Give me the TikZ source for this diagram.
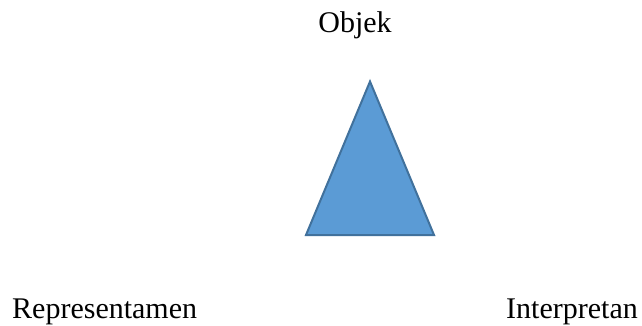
\documentclass[tikz,border=0pt]{standalone}
\usepackage{fontspec}
\setmainfont{Liberation Serif}
\usepackage{xcolor}
\usepackage{tikz}

\definecolor{segiFill}{HTML}{5B9BD5}
\definecolor{segiLine}{HTML}{41719C}

\tikzset{
	label text/.style={inner sep=0, font=\fontsize{30}{36}\selectfont},
}

\begin{document}
\begin{tikzpicture}[x=1pt, y=1pt]

\useasboundingbox (0,0) rectangle (642,325);

\begin{scope}
\coordinate (puncak) at (370,243.5);
\coordinate (kiri) at (306,90);
\coordinate (kanan) at (434,90);
\draw[line width=2, fill=segiFill, draw=segiLine, line join=miter] (puncak)--(kanan)--(kiri)--cycle;
\end{scope}

\node[label text, anchor=base] (objek) at (355,293) {Objek};
\node[label text, anchor=base west] (repr) at (12,7) {Representamen};
\node[label text, anchor=base east] (interp) at (638,7) {Interpretan};

\end{tikzpicture}
\end{document}
